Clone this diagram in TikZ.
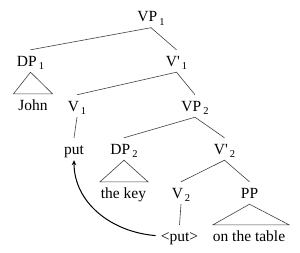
\documentclass[tikz,border=0pt]{standalone}
\usepackage{fontspec}
\setmainfont{Liberation Serif}
\usetikzlibrary{arrows.meta}
\newcommand{\subn}[1]{\hspace{2pt}\raisebox{-3.5pt}{\fontsize{10.5}{10.5}\selectfont #1}}
\begin{document}
\begin{tikzpicture}[x=1pt,y=-1pt,
  lab/.style={anchor=base,inner xsep=0pt,inner ysep=6pt,text height=10pt,text depth=0pt,font=\fontsize{15.5}{16}\selectfont},
  br/.style={draw=black!75,line width=0.6pt},
  mv/.style={draw=black,line width=1pt,-{Stealth[length=5pt,width=4.5pt]}}]
\useasboundingbox (0,0) rectangle (300,252);
\node[lab] (vp1) at (151,21.5) {VP\subn{1}};
\node[lab] (dp1) at (30.5,66) {DP\subn{1}};
\node[lab] (vb1) at (176.5,66) {V\textquotesingle\subn{1}};
\node[lab] (john) at (33,110) {John};
\node[lab] (v1) at (77,111) {V\subn{1}};
\node[lab] (vp2) at (195,111) {VP\subn{2}};
\node[lab] (put) at (74,154) {put};
\node[lab] (dp2) at (124,154) {DP\subn{2}};
\node[lab] (vb2) at (224.5,154) {V\textquotesingle\subn{2}};
\node[lab] (key) at (123.5,198) {the key};
\node[lab] (v2) at (181,198) {V\subn{2}};
\node[lab] (pp) at (249.5,198) {PP};
\node[lab] (trace) at (179.5,241) {<put>};
\node[lab] (table) at (249,241) {on the table};
% branches
\draw[br] (dp1.north) -- (vp1.south) -- (vb1.north);
\draw[br] (v1.north) -- (vb1.south) -- (vp2.north);
\draw[br] (dp2.north) -- (vp2.south) -- (vb2.north);
\draw[br] (v2.north) -- (vb2.south) -- (pp.north);
\draw[br] (v1.south) -- (put.north);
\draw[br] (v2.south) -- (trace.north);
% triangles
\draw[br] (dp1.south) -- ([xshift=-19.5pt]john.north) -- ([xshift=19.5pt]john.north) -- cycle;
\draw[br] (dp2.south) -- ([xshift=-23.5pt]key.north) -- ([xshift=24.5pt]key.north) -- cycle;
\draw[br] (pp.south) -- ([xshift=-36pt]table.north) -- ([xshift=40pt]table.north) -- cycle;
% movement arrow
\draw[mv,shorten <=5pt] (trace.west) .. controls +(-50,-4) and +(0,42) .. (put.south);
\end{tikzpicture}
\end{document}
